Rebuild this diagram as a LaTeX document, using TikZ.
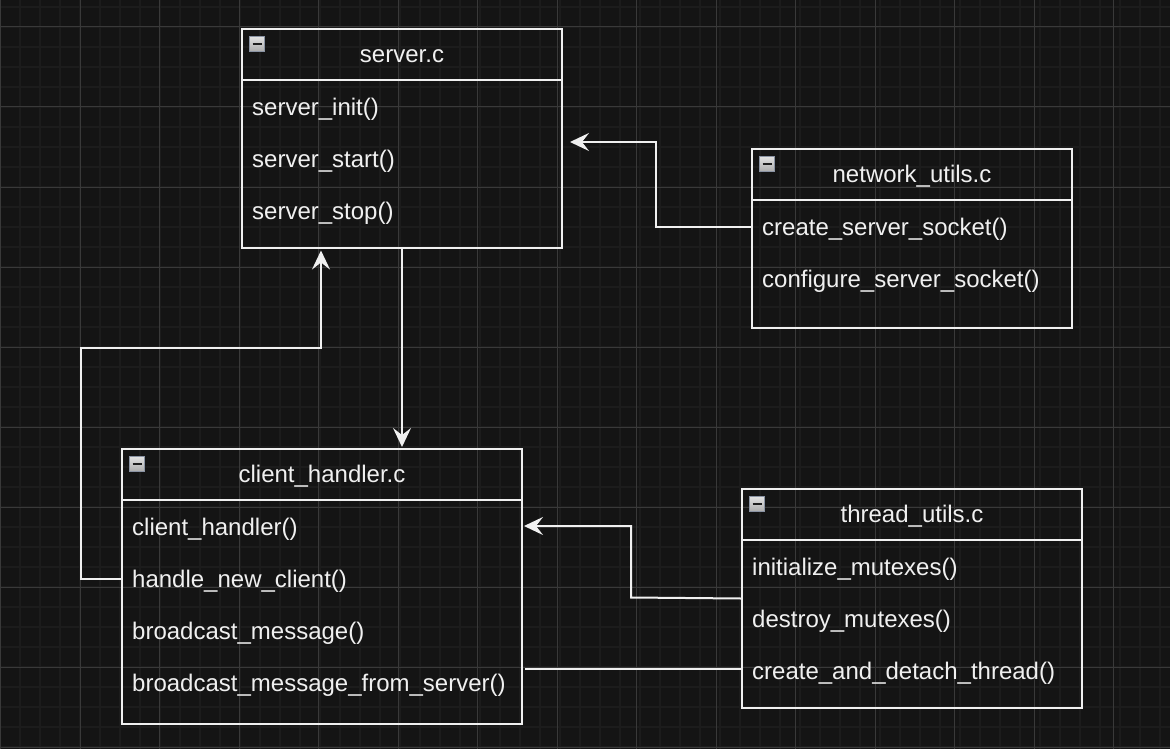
\documentclass[tikz,border=0pt]{standalone}
\usepackage{fontspec}
\setmainfont{Liberation Sans}
\usetikzlibrary{arrows.meta}
\definecolor{bg}{HTML}{141414}
\definecolor{gridminor}{HTML}{1C1C1C}
\definecolor{gridmajor}{HTML}{393939}
\definecolor{fg}{HTML}{F0F0F0}
\definecolor{iconborder}{HTML}{8A93A3}
\definecolor{icontop}{HTML}{E2E2E2}
\definecolor{iconbot}{HTML}{ABABAB}
\definecolor{iconbar}{HTML}{1E1E1E}
\begin{document}
\begin{tikzpicture}[x=1pt,y=-1pt,
  classbox/.style={draw=fg, line width=2pt, anchor=north west, inner sep=0pt, rectangle},
  sep/.style={draw=fg, line width=2pt},
  title/.style={text=fg, font=\fontsize{24pt}{28pt}\selectfont, inner sep=0pt, text height=18pt, text depth=5pt},
  row/.style={text=fg, font=\fontsize{24pt}{28pt}\selectfont, anchor=west, inner sep=0pt, text height=18pt, text depth=5pt},
  icon/.style={rectangle, draw=iconborder, line width=1.8pt, top color=icontop, bottom color=iconbot,
    minimum width=15pt, minimum height=15pt, inner sep=0pt,
    path picture={\draw[iconbar, line width=2.6pt]
      ([xshift=3pt]path picture bounding box.west) -- ([xshift=-3pt]path picture bounding box.east);}},
  conn/.style={draw=fg, line width=2pt},
  arr/.style={conn, -{Stealth[length=19pt, width=18pt, inset=7pt]}}
]
\fill[bg] (0,0) rectangle (1170,749);
\useasboundingbox (0,0) rectangle (1170,749);
% grid
\foreach \x in {20,40,...,1160} \draw[gridminor, line width=2pt] (\x,0) -- (\x,749);
\foreach \y in {7,27,...,747} \draw[gridminor, line width=2pt] (0,\y) -- (1170,\y);
\foreach \x in {0.5,80,...,1120} \draw[gridmajor, line width=1pt] (\x,0) -- (\x,749);
\foreach \y in {27,107,...,747} \draw[gridmajor, line width=1pt] (0,\y) -- (1170,\y);

% server.c
\node[classbox, minimum width=320pt, minimum height=219pt] (server) at (241,28) {};
\draw[sep] ([yshift=-52pt]server.north west) -- ([yshift=-52pt]server.north east);
\node[title] (server-title) at ([yshift=-28pt]server.north) {server.c};
\node[icon] (server-icon) at ([xshift=16pt,yshift=-16pt]server.north west) {};
\node[row] (sv-init) at ([xshift=11pt,yshift=-81pt]server.north west) {server\_init()};
\node[row] (sv-start) at ([xshift=11pt,yshift=-133pt]server.north west) {server\_start()};
\node[row] (sv-stop) at ([xshift=11pt,yshift=-185pt]server.north west) {server\_stop()};

% network_utils.c
\node[classbox, minimum width=320pt, minimum height=179pt] (network) at (751,148) {};
\draw[sep] ([yshift=-52pt]network.north west) -- ([yshift=-52pt]network.north east);
\node[title] (network-title) at ([yshift=-28pt]network.north) {network\_utils.c};
\node[icon] (network-icon) at ([xshift=16pt,yshift=-16pt]network.north west) {};
\node[row] (net-create) at ([xshift=11pt,yshift=-81pt]network.north west) {create\_server\_socket()};
\node[row] (net-config) at ([xshift=11pt,yshift=-133pt]network.north west) {configure\_server\_socket()};

% client_handler.c
\node[classbox, minimum width=400pt, minimum height=275pt] (client) at (121,448) {};
\draw[sep] ([yshift=-52pt]client.north west) -- ([yshift=-52pt]client.north east);
\node[title] (client-title) at ([yshift=-28pt]client.north) {client\_handler.c};
\node[icon] (client-icon) at ([xshift=16pt,yshift=-16pt]client.north west) {};
\node[row] (ch-handler) at ([xshift=11pt,yshift=-81pt]client.north west) {client\_handler()};
\node[row] (ch-new) at ([xshift=11pt,yshift=-133pt]client.north west) {handle\_new\_client()};
\node[row] (ch-bcast) at ([xshift=11pt,yshift=-185pt]client.north west) {broadcast\_message()};
\node[row] (ch-bcast-srv) at ([xshift=11pt,yshift=-237pt]client.north west) {broadcast\_message\_from\_server()};

% thread_utils.c
\node[classbox, minimum width=340pt, minimum height=219pt] (thread) at (741,488) {};
\draw[sep] ([yshift=-52pt]thread.north west) -- ([yshift=-52pt]thread.north east);
\node[title] (thread-title) at ([yshift=-28pt]thread.north) {thread\_utils.c};
\node[icon] (thread-icon) at ([xshift=16pt,yshift=-16pt]thread.north west) {};
\node[row] (th-init) at ([xshift=11pt,yshift=-81pt]thread.north west) {initialize\_mutexes()};
\node[row] (th-destroy) at ([xshift=11pt,yshift=-133pt]thread.north west) {destroy\_mutexes()};
\node[row] (th-create) at ([xshift=11pt,yshift=-185pt]thread.north west) {create\_and\_detach\_thread()};

% connectors
\coordinate (b1a) at (656,227);
\coordinate (b1b) at (656,142);
\draw[arr] (network.west |- b1a) -- (b1a) -- (b1b) -- ([xshift=7pt]server.east |- b1b);

\draw[arr, shorten >=1pt] (server.south) -- (server.south |- client.north);

\coordinate (b3a) at (81,348);
\coordinate (b3b) at (321,348);
\coordinate (b3s) at (121,579);
\draw[arr, shorten >=1.5pt] (client.west |- b3s) -| (b3a) -- (b3b) -- (b3b |- server.south);

\coordinate (b4a) at (631,597.5);
\coordinate (b4b) at (631,526);
\draw[arr] (thread.west) -- (b4a) -- (b4b) -- ([xshift=1pt]client.east |- b4b);

\coordinate (b5) at (741,669);
\draw[conn] (b5) -- ([xshift=2pt]client.east |- b5);
\end{tikzpicture}
\end{document}
